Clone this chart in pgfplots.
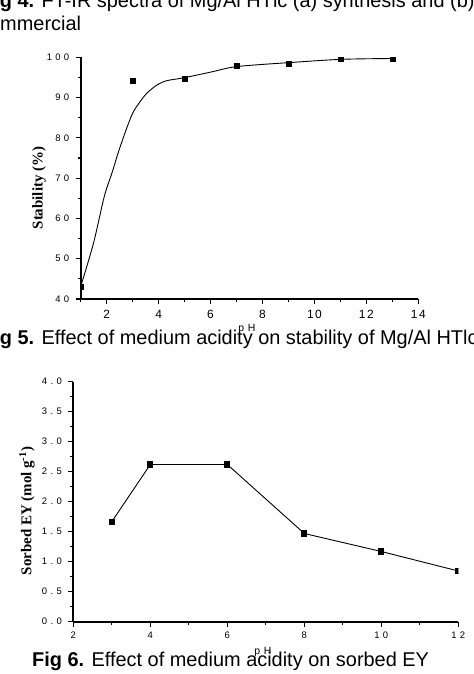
\documentclass[border=0pt]{standalone}
\usepackage{fontspec}
\setmainfont{Liberation Sans}
\newfontfamily\tickfont[LetterSpace=35]{Liberation Sans}
\newfontfamily\tickfontnarrow[LetterSpace=12]{Liberation Sans}
\newfontfamily\labfont{Liberation Serif}
\usepackage{pgfplots}
\pgfplotsset{compat=1.18}

\pgfplotsset{
  phaxis/.style={
    scale only axis, anchor=south west,
    axis lines=left,
    axis line style={-, line width=1.8bp},
    tick style={black, line width=1.2bp},
    tick align=outside,
    major tick length=5bp, minor tick length=3bp,
    tick label style={font=\tickfont\fontsize{9.5}{9.5}\selectfont},
    yticklabel style={xshift=-3bp},
    xticklabel style={yshift=-1.5bp},
    /pgf/number format/assume math mode=true,
    clip marker paths=true,
  },
}

\begin{document}
\begin{tikzpicture}
\path[use as bounding box] (0bp,0bp) rectangle (474bp,674bp);
\clip (0bp,0bp) rectangle (474bp,674bp);
\fill[white] (0bp,0bp) rectangle (474bp,674bp);

% captions
\begin{scope}[every node/.style={anchor=base west, inner sep=0pt, font=\fontsize{20}{22}\selectfont}]
\node at (-18bp,666.5bp) {\textbf{Fig 4.} FT-IR spectra of Mg/Al HTlc (a) synthesis and (b)};
\node at (-21bp,643.3bp) {commercial};
\node at (-18bp,329.7bp) {\textbf{Fig 5.} Effect of medium acidity on stability of Mg/Al HTlc};
\node at (32bp,7.5bp) {\textbf{Fig 6.} Effect of medium acidity on sorbed EY};
\end{scope}

% stability vs pH
\begin{axis}[phaxis,
  at={(80.7bp,375bp)}, width=337.6bp, height=241.7bp,
  xmin=1, xmax=14, ymin=40, ymax=100,
  xtick={2,4,...,14}, minor xtick={1,3,...,13},
  ytick={40,50,...,100}, minor ytick={45,55,...,95},
  xticklabel style={font=\tickfontnarrow\fontsize{12}{12}\selectfont, yshift=-1bp},
]
\addplot[black, line width=0.9bp, smooth, tension=0.5] coordinates {
  (1,43.1) (1.49,53.8) (1.91,65.5) (2.2,71.2) (2.52,77.8) (2.97,85.7)
  (3.29,89.0) (3.55,91.1) (3.93,93.1) (4.32,94.2) (4.96,94.9) (5.99,96.3)
  (7.02,97.7) (9.07,98.7) (11.06,99.5) (13.05,99.7)
};
\addplot[only marks, mark=square*, mark size=2.6bp, black] coordinates {
  (1,43.1) (3,94.2) (5,94.6) (7,97.9) (9,98.5) (11,99.6) (13,99.6)
};
\end{axis}
\node[font=\tickfont\fontsize{10.5}{10.5}\selectfont] at (247bp,345bp) {pH};
\node[rotate=90, font=\labfont\bfseries\fontsize{15}{15}\selectfont] at (39bp,486bp) {Stability (\%)};

% sorbed EY vs pH
\begin{axis}[phaxis,
  at={(73.3bp,52.3bp)}, width=385bp, height=240bp,
  xmin=2, xmax=12, ymin=0, ymax=4,
  xtick={2,4,...,12}, minor xtick={3,5,...,11},
  ytick={0,0.5,...,4}, minor ytick={0.25,0.75,...,3.75},
  yticklabel style={/pgf/number format/.cd, fixed, fixed zerofill, precision=1},
]
\addplot[black, line width=0.9bp, mark=square*, mark size=2.6bp] coordinates {
  (3,1.667) (4,2.62) (6,2.62) (8,1.47) (10,1.17) (12,0.845)
};
\end{axis}
\node[font=\tickfont\fontsize{10.5}{10.5}\selectfont] at (263bp,22.3bp) {pH};
\node[rotate=90, font=\labfont\bfseries\fontsize{15}{15}\selectfont] at (27bp,163bp) {Sorbed EY (mol g\textsuperscript{-1})};
\end{tikzpicture}
\end{document}
